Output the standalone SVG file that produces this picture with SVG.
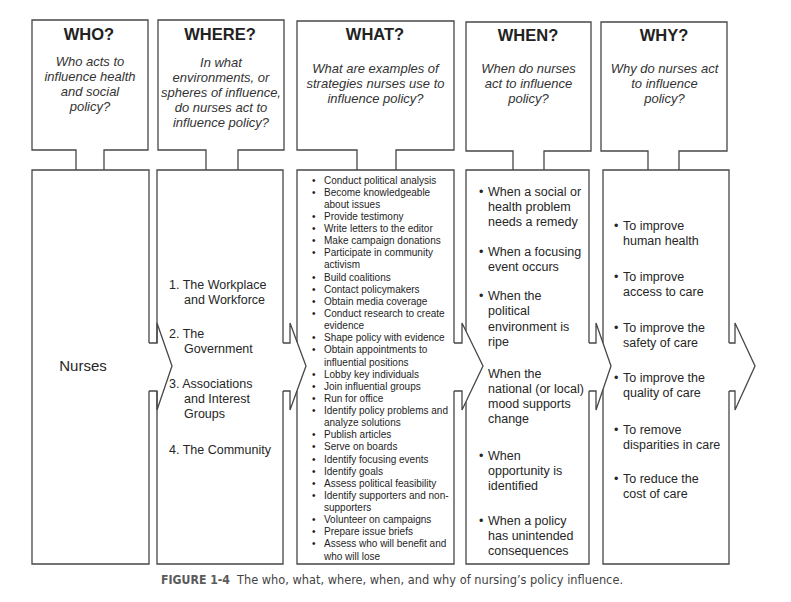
<svg xmlns="http://www.w3.org/2000/svg" width="791" height="602" viewBox="0 0 791 602">
<style>
.ln{fill:none;stroke:#474747;stroke-width:1.3;stroke-linejoin:miter}
.t{font-family:"Liberation Sans",Arial,sans-serif;font-size:16.5px;font-weight:bold;fill:#222;text-anchor:middle}
.q{font-family:"Liberation Sans",Arial,sans-serif;font-size:13px;font-style:italic;fill:#333;text-anchor:middle}
.b{font-family:"Liberation Sans",Arial,sans-serif;font-size:12.5px;fill:#262626}
.s{font-family:"Liberation Sans",Arial,sans-serif;font-size:10px;fill:#1e1e1e}
.cap{font-family:"Liberation Sans Narrow","DejaVu Sans Condensed","Liberation Sans",sans-serif;font-size:12.5px;fill:#444}
</style>
<rect width="791" height="602" fill="#fff"/>

<g id="who">
<path class="ln" d="M76,170 V150 H32 V20 H148 V150 H104 V170"/>
<path class="ln" d="M149,343 V170 H32 V564 H149 V391"/>
<text class="t" x="89" y="40">WHO?</text>
<text class="q"><tspan x="90" y="65.5">Who acts to</tspan><tspan x="90" y="80.5">influence health</tspan><tspan x="90" y="95.5">and social</tspan><tspan x="90" y="110.5">policy?</tspan></text>
<text class="b" x="83" y="371" style="font-size:15px;text-anchor:middle">Nurses</text>
</g>

<g id="where">
<path class="ln" d="M206,170 V150 H158 V20 H284 V150 H238 V170"/>
<path class="ln" d="M157,343 V170 H283 V343 M283,391 V564 H157 V391"/>
<text class="t" x="220" y="40">WHERE?</text>
<text class="q"><tspan x="221" y="66.5">In what</tspan><tspan x="221" y="81.5">environments, or</tspan><tspan x="221" y="96.5">spheres of influence,</tspan><tspan x="221" y="111.5">do nurses act to</tspan><tspan x="221" y="126.5">influence policy?</tspan></text>
<text class="b"><tspan x="169" y="288.5">1. The Workplace</tspan><tspan x="184" y="303.5">and Workforce</tspan><tspan x="169" y="338">2. The</tspan><tspan x="184" y="353">Government</tspan><tspan x="169" y="387.5">3. Associations</tspan><tspan x="184" y="402.5">and Interest</tspan><tspan x="184" y="417.5">Groups</tspan><tspan x="169" y="453.5">4. The Community</tspan></text>
</g>

<g id="what">
<path class="ln" d="M357,170 V150 H297 V21 H454 V150 H396 V170"/>
<path class="ln" d="M297,342 V170 H454 V343 M454,391 V564 H297 V391"/>
<text class="t" x="375" y="40">WHAT?</text>
<text class="q"><tspan x="375.5" y="72.5">What are examples of</tspan><tspan x="375.5" y="87.5">strategies nurses use to</tspan><tspan x="375.5" y="102.5">influence policy?</tspan></text>
<text class="s">
<tspan x="312" y="183.5">•</tspan><tspan x="324" y="183.5">Conduct political analysis</tspan>
<tspan x="312" y="195.6">•</tspan><tspan x="324" y="195.6">Become knowledgeable</tspan>
<tspan x="324" y="207.8">about issues</tspan>
<tspan x="312" y="219.9">•</tspan><tspan x="324" y="219.9">Provide testimony</tspan>
<tspan x="312" y="232">•</tspan><tspan x="324" y="232">Write letters to the editor</tspan>
<tspan x="312" y="244.2">•</tspan><tspan x="324" y="244.2">Make campaign donations</tspan>
<tspan x="312" y="256.3">•</tspan><tspan x="324" y="256.3">Participate in community</tspan>
<tspan x="324" y="268.4">activism</tspan>
<tspan x="312" y="280.5">•</tspan><tspan x="324" y="280.5">Build coalitions</tspan>
<tspan x="312" y="292.7">•</tspan><tspan x="324" y="292.7">Contact policymakers</tspan>
<tspan x="312" y="304.8">•</tspan><tspan x="324" y="304.8">Obtain media coverage</tspan>
<tspan x="312" y="316.9">•</tspan><tspan x="324" y="316.9">Conduct research to create</tspan>
<tspan x="324" y="329.1">evidence</tspan>
<tspan x="312" y="341.2">•</tspan><tspan x="324" y="341.2">Shape policy with evidence</tspan>
<tspan x="312" y="353.3">•</tspan><tspan x="324" y="353.3">Obtain appointments to</tspan>
<tspan x="324" y="365.5">influential positions</tspan>
<tspan x="312" y="377.6">•</tspan><tspan x="324" y="377.6">Lobby key individuals</tspan>
<tspan x="312" y="389.7">•</tspan><tspan x="324" y="389.7">Join influential groups</tspan>
<tspan x="312" y="401.8">•</tspan><tspan x="324" y="401.8">Run for office</tspan>
<tspan x="312" y="414">•</tspan><tspan x="324" y="414">Identify policy problems and</tspan>
<tspan x="324" y="426.1">analyze solutions</tspan>
<tspan x="312" y="438.2">•</tspan><tspan x="324" y="438.2">Publish articles</tspan>
<tspan x="312" y="450.4">•</tspan><tspan x="324" y="450.4">Serve on boards</tspan>
<tspan x="312" y="462.5">•</tspan><tspan x="324" y="462.5">Identify focusing events</tspan>
<tspan x="312" y="474.6">•</tspan><tspan x="324" y="474.6">Identify goals</tspan>
<tspan x="312" y="486.8">•</tspan><tspan x="324" y="486.8">Assess political feasibility</tspan>
<tspan x="312" y="498.9">•</tspan><tspan x="324" y="498.9">Identify supporters and non-</tspan>
<tspan x="324" y="511">supporters</tspan>
<tspan x="312" y="523.1">•</tspan><tspan x="324" y="523.1">Volunteer on campaigns</tspan>
<tspan x="312" y="535.3">•</tspan><tspan x="324" y="535.3">Prepare issue briefs</tspan>
<tspan x="312" y="547.4">•</tspan><tspan x="324" y="547.4">Assess who will benefit and</tspan>
<tspan x="324" y="559.5">who will lose</tspan>
</text>
</g>

<g id="when">
<path class="ln" d="M513,170 V151 H466 V22 H591 V151 H544 V170"/>
<path class="ln" d="M466,331 V170 H589 V343 M589,391 V564 H466 V402"/>
<text class="t" x="528" y="40.5">WHEN?</text>
<text class="q"><tspan x="528.5" y="72.5">When do nurses</tspan><tspan x="528.5" y="87.5">act to influence</tspan><tspan x="528.5" y="102.5">policy?</tspan></text>
<text class="b">
<tspan x="479" y="195.5">•</tspan><tspan x="488" y="195.5">When a social or</tspan>
<tspan x="488" y="210.5">health problem</tspan>
<tspan x="488" y="225.5">needs a remedy</tspan>
<tspan x="479" y="255.5">•</tspan><tspan x="488" y="255.5">When a focusing</tspan>
<tspan x="488" y="270.5">event occurs</tspan>
<tspan x="479" y="300">•</tspan><tspan x="488" y="300">When the</tspan>
<tspan x="488" y="315">political</tspan>
<tspan x="488" y="330.5">environment is</tspan>
<tspan x="488" y="345.5">ripe</tspan>
<tspan x="488" y="377.5">When the</tspan>
<tspan x="488" y="392.5">national (or local)</tspan>
<tspan x="488" y="407.5">mood supports</tspan>
<tspan x="488" y="422.5">change</tspan>
<tspan x="479" y="459.5">•</tspan><tspan x="488" y="459.5">When</tspan>
<tspan x="488" y="474.5">opportunity is</tspan>
<tspan x="488" y="490">identified</tspan>
<tspan x="479" y="524.5">•</tspan><tspan x="488" y="524.5">When a policy</tspan>
<tspan x="488" y="539.5">has unintended</tspan>
<tspan x="488" y="555">consequences</tspan>
</text>
</g>

<g id="why">
<path class="ln" d="M648,170 V151 H601 V22 H727 V151 H679 V170"/>
<path class="ln" d="M603,343 V170 H729 V343 M729,391 V564 H603 V389.5"/>
<text class="t" x="664" y="40.5">WHY?</text>
<text class="q"><tspan x="664.5" y="72.5">Why do nurses act</tspan><tspan x="664.5" y="87.5">to influence</tspan><tspan x="664.5" y="102.5">policy?</tspan></text>
<text class="b">
<tspan x="614" y="229.5">•</tspan><tspan x="623" y="229.5">To improve</tspan>
<tspan x="623" y="244.5">human health</tspan>
<tspan x="614" y="280.5">•</tspan><tspan x="623" y="280.5">To improve</tspan>
<tspan x="623" y="295.5">access to care</tspan>
<tspan x="614" y="331.5">•</tspan><tspan x="623" y="331.5">To improve the</tspan>
<tspan x="623" y="346.5">safety of care</tspan>
<tspan x="614" y="381.5">•</tspan><tspan x="623" y="381.5">To improve the</tspan>
<tspan x="623" y="397">quality of care</tspan>
<tspan x="614" y="433.5">•</tspan><tspan x="623" y="433.5">To remove</tspan>
<tspan x="623" y="448.5">disparities in care</tspan>
<tspan x="614" y="482.5">•</tspan><tspan x="623" y="482.5">To reduce the</tspan>
<tspan x="623" y="497.5">cost of care</tspan>
</text>
</g>

<g id="connectors">
<path class="ln" d="M149,343 H157 V323 L172,366 L157,410 V391 H149"/>
<path class="ln" d="M283,343 H290 V323 L306,366 L290,410 V391 H283"/>
<path class="ln" d="M454,343 H462 V323 L483,366 L462,410 V391 H454"/>
<path class="ln" d="M589,343 H596 V323 L611,366 L596,410 V391 H589"/>
<path class="ln" d="M729,343 H735 V323 L755,366 L735,410 V391 H729"/>
</g>

<g id="caption">
<text class="cap" x="161" y="584" textLength="69" lengthAdjust="spacingAndGlyphs" style="font-weight:bold;fill:#5a5a5a">FIGURE 1-4</text>
<text class="cap" x="237" y="584" textLength="386" lengthAdjust="spacingAndGlyphs">The who, what, where, when, and why of nursing’s policy influence.</text>
</g>
</svg>
